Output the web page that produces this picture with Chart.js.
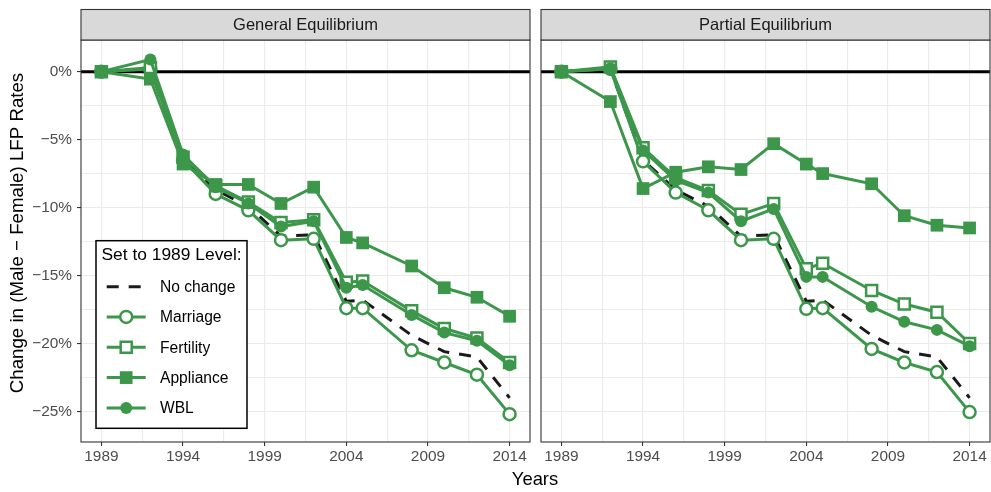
<!DOCTYPE html>
<html lang="en">
<head>
<meta charset="UTF-8">
<title>Change in (Male − Female) LFP Rates</title>
<script src="https://cdn.jsdelivr.net/npm/chart.js"></script>
<style>
  html, body { margin: 0; padding: 0; background: #fff; }
  #wrap { position: relative; width: 991px; height: 492px; }
  #wrap canvas { position: absolute; left: 0; top: 0; }
</style>
</head>
<body>
<div id="wrap">
  <canvas id="ge" width="991" height="492"></canvas>
  <canvas id="pe" width="991" height="492"></canvas>
</div>
<script>
// survey years
const years = [1989, 1992, 1994, 1996, 1998, 2000, 2002, 2004, 2005, 2008, 2010, 2012, 2014]

// baseline, same in both panels
const noChange = [0, 0.2, -6.5, -8.7, -9.9, -12.1, -12.0, -16.9, -16.8, -19.4, -20.6, -21.0, -24.0]

// General Equilibrium
const marriageGE = [0, 0.2, -6.5, -9.0, -10.2, -12.4, -12.3, -17.4, -17.4, -20.5, -21.4, -22.3, -25.2]
const fertilityGE = [0, 0.3, -6.3, -8.4, -9.6, -11.1, -10.9, -15.5, -15.4, -17.6, -18.9, -19.6, -21.4]
const applianceGE = [0, -0.55, -6.8, -8.3, -8.3, -9.7, -8.5, -12.2, -12.6, -14.3, -15.9, -16.6, -18.0]
const wblGE = [0, 0.9, -6.1, -8.5, -9.7, -11.4, -11.0, -15.9, -15.7, -17.9, -19.2, -19.8, -21.6]

// Partial Equilibrium
const marriagePE = [0, 0.2, -6.6, -8.9, -10.2, -12.4, -12.3, -17.45, -17.4, -20.4, -21.4, -22.1, -25.05]
const fertilityPE = [0, 0.35, -5.6, -7.8, -8.75, -10.5, -9.7, -14.5, -14.1, -16.1, -17.1, -17.7, -20.0]
const appliancePE = [0, -2.2, -8.6, -7.4, -7.0, -7.2, -5.3, -6.8, -7.5, -8.25, -10.6, -11.3, -11.5]
const wblPE = [0, 0.25, -5.8, -8.0, -8.9, -11.0, -10.1, -15.1, -15.1, -17.3, -18.4, -19.0, -20.2]

const xTicks = [1989, 1994, 1999, 2004, 2009, 2014]
const xTickLabels = ["1989", "1994", "1999", "2004", "2009", "2014"]
const yTicks = [0, -5, -10, -15, -20, -25]
const yTickLabels = ["0%", "−5%", "−10%", "−15%", "−20%", "−25%"]

const GREEN = "#3c974b"
const FONT = "'Liberation Sans', Arial, Helvetica, sans-serif"

const pts = (vals) => years.map((yr, i) => ({ x: yr, y: vals[i] }))

function makeDatasets(marriage, fertility, appliance, wbl) {
  return [
    {
      label: "No change",
      data: pts(noChange),
      borderColor: "#1a1a1a",
      borderDash: [12, 10],
      borderWidth: 3,
      pointRadius: 0,
      order: 5,
    },
    {
      label: "Marriage",
      data: pts(marriage),
      borderColor: GREEN,
      borderWidth: 3,
      pointStyle: "circle",
      pointRadius: 6,
      pointBorderWidth: 2.5,
      pointBorderColor: GREEN,
      pointBackgroundColor: "#fff",
      order: 4,
    },
    {
      label: "Fertility",
      data: pts(fertility),
      borderColor: GREEN,
      borderWidth: 3,
      pointStyle: "rect",
      pointRadius: 7.8,
      pointBorderWidth: 2.5,
      pointBorderColor: GREEN,
      pointBackgroundColor: "#fff",
      order: 3,
    },
    {
      label: "Appliance",
      data: pts(appliance),
      borderColor: GREEN,
      borderWidth: 3,
      pointStyle: "rect",
      pointRadius: 9,
      pointBorderWidth: 0,
      pointBorderColor: GREEN,
      pointBackgroundColor: GREEN,
      order: 2,
    },
    {
      label: "WBL",
      data: pts(wbl),
      borderColor: GREEN,
      borderWidth: 3,
      pointStyle: "circle",
      pointRadius: 6,
      pointBorderWidth: 0,
      pointBorderColor: GREEN,
      pointBackgroundColor: GREEN,
      order: 1,
    },
  ]
}

function drawMarker(ctx, ds, x, y) {
  ctx.save()
  ctx.fillStyle = ds.pointBackgroundColor
  ctx.strokeStyle = ds.pointBorderColor
  ctx.lineWidth = ds.pointBorderWidth
  ctx.beginPath()
  if (ds.pointStyle === "rect") {
    const s = ds.pointRadius * Math.SQRT1_2
    ctx.rect(x - s, y - s, 2 * s, 2 * s)
  } else {
    ctx.arc(x, y, ds.pointRadius, 0, Math.PI * 2)
  }
  ctx.fill()
  if (ds.pointBorderWidth > 0) ctx.stroke()
  ctx.restore()
}

function panelPlugin(cfg) {
  return {
    id: "panel_" + cfg.id,
    beforeDatasetsDraw(chart) {
      const { ctx, chartArea: a } = chart
      const y0 = chart.scales.y.getPixelForValue(0)
      ctx.save()
      ctx.strokeStyle = "#000"
      ctx.lineWidth = 3
      ctx.beginPath()
      ctx.moveTo(a.left, y0)
      ctx.lineTo(a.right, y0)
      ctx.stroke()
      ctx.restore()
    },
    afterDraw(chart) {
      const { ctx, chartArea: a } = chart
      ctx.save()
      // panel border
      ctx.strokeStyle = "#333"
      ctx.lineWidth = 1.1
      ctx.strokeRect(a.left, a.top, a.right - a.left, a.bottom - a.top)
      // strip
      ctx.fillStyle = "#d9d9d9"
      ctx.fillRect(a.left, 9.5, a.right - a.left, a.top - 9.5)
      ctx.strokeRect(a.left, 9.5, a.right - a.left, a.top - 9.5)
      ctx.fillStyle = "#1a1a1a"
      ctx.font = "16.5px " + FONT
      ctx.textAlign = "center"
      ctx.textBaseline = "middle"
      ctx.fillText(cfg.title, (a.left + a.right) / 2, (9.5 + a.top) / 2 + 1)

      if (cfg.outer) {
        ctx.fillStyle = "#000"
        ctx.font = "18.4px " + FONT
        ctx.fillText("Years", 535, 480)
        ctx.save()
        ctx.translate(18, 233)
        ctx.rotate(-Math.PI / 2)
        ctx.font = "18.7px " + FONT
        ctx.fillText("Change in (Male − Female) LFP Rates", 0, 0)
        ctx.restore()
      }

      if (cfg.legend) {
        ctx.fillStyle = "#fff"
        ctx.fillRect(96, 240.7, 151, 187.6)
        ctx.strokeStyle = "#000"
        ctx.lineWidth = 1.5
        ctx.strokeRect(96, 240.7, 151, 187.6)
        ctx.fillStyle = "#000"
        ctx.textAlign = "left"
        ctx.font = "17.4px " + FONT
        ctx.fillText("Set to 1989 Level:", 101.5, 255)
        ctx.font = "15.6px " + FONT
        const rows = [286.7, 316.9, 347.2, 377.6, 408]
        chart.data.datasets.forEach((ds, i) => {
          const ry = rows[i]
          ctx.save()
          ctx.strokeStyle = ds.borderColor
          ctx.lineWidth = ds.borderWidth
          ctx.setLineDash(ds.borderDash || [])
          ctx.beginPath()
          ctx.moveTo(106.7, ry)
          ctx.lineTo(145.7, ry)
          ctx.stroke()
          ctx.restore()
          if (ds.pointRadius > 0) drawMarker(ctx, ds, 126.2, ry)
          ctx.fillStyle = "#000"
          ctx.fillText(ds.label, 160, ry + 1)
        })
      }
      ctx.restore()
    },
  }
}

function makeChart(canvasId, datasets, cfg) {
  const gridColor = "#ebebeb"
  return new Chart(document.getElementById(canvasId), {
    type: "line",
    data: { datasets },
    options: {
      responsive: false,
      animation: false,
      devicePixelRatio: 1,
      // no extra room for point overflow, panel edges are fixed
      layout: { padding: cfg.padding, autoPadding: false },
      elements: { line: { tension: 0 } },
      plugins: { legend: { display: false }, tooltip: { enabled: false } },
      scales: {
        x: {
          type: "linear",
          min: 1987.75,
          max: 2015.25,
          afterBuildTicks: (s) => {
            s.ticks = []
            for (let v = 1989; v <= 2014; v += 2.5) s.ticks.push({ value: v })
          },
          afterFit: (s) => {
            s.height = 50
            s.paddingLeft = 0
            s.paddingRight = 0
          },
          ticks: {
            autoSkip: false,
            maxRotation: 0,
            padding: 2,
            color: "#4d4d4d",
            font: { family: FONT, size: 15.4 },
            callback: (v) => {
              const i = xTicks.indexOf(v)
              return i >= 0 ? xTickLabels[i] : ""
            },
          },
          grid: {
            color: gridColor,
            lineWidth: 1.1,
            tickLength: 4,
            tickWidth: 1.1,
            tickColor: (c) => (c.tick && xTicks.includes(c.tick.value) ? "#333" : "rgba(0,0,0,0)"),
          },
          border: { display: false },
        },
        y: {
          type: "linear",
          min: -27.25,
          max: 2.33,
          afterBuildTicks: (s) => {
            s.ticks = []
            for (let v = -25; v <= 0; v += 2.5) s.ticks.push({ value: v })
          },
          afterFit: (s) => {
            s.width = cfg.yWidth
            s.paddingTop = 0
            s.paddingBottom = 0
          },
          ticks: {
            display: cfg.yLabels,
            padding: 5,
            color: "#4d4d4d",
            font: { family: FONT, size: 15.4 },
            callback: (v) => {
              const i = yTicks.indexOf(v)
              return i >= 0 ? yTickLabels[i] : ""
            },
          },
          grid: {
            color: gridColor,
            lineWidth: 1.1,
            drawTicks: cfg.yLabels,
            tickLength: 4,
            tickWidth: 1.1,
            tickColor: (c) => (c.tick && yTicks.includes(c.tick.value) ? "#333" : "rgba(0,0,0,0)"),
          },
          border: { display: false },
        },
      },
    },
    plugins: [panelPlugin(cfg)],
  })
}

makeChart("ge", makeDatasets(marriageGE, fertilityGE, applianceGE, wblGE), {
  id: "ge",
  title: "General Equilibrium",
  legend: true,
  outer: true,
  yLabels: true,
  yWidth: 81,
  padding: { left: 0, top: 40, right: 461, bottom: 0 },
})

makeChart("pe", makeDatasets(marriagePE, fertilityPE, appliancePE, wblPE), {
  id: "pe",
  title: "Partial Equilibrium",
  legend: false,
  outer: false,
  yLabels: false,
  yWidth: 0,
  padding: { left: 541, top: 40, right: 1, bottom: 0 },
})
</script>
</body>
</html>
